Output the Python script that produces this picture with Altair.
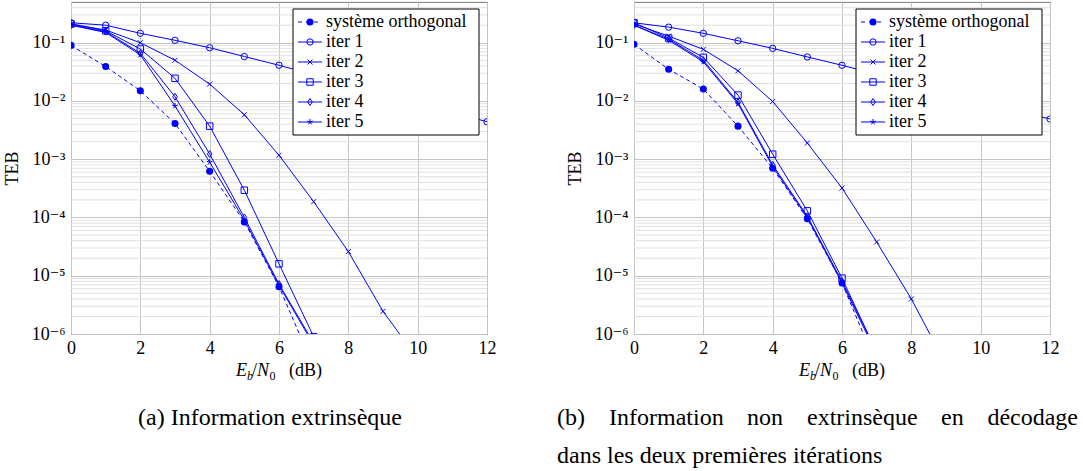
import altair as alt
import pandas as pd

FONT = "'Liberation Serif', 'DejaVu Serif', serif"
BLUE = "#0000ff"

SERIES = ["système orthogonal", "iter 1", "iter 2", "iter 3", "iter 4", "iter 5"]

# Eb/N0 abscissae of each curve
X_ORTHO = [0, 1, 2, 3, 4, 5, 6, 7]
X_ITER1 = [0, 1, 2, 3, 4, 5, 6, 12]
X_ITER3_5 = [0, 1, 2, 3, 4, 5, 6, 7]

# (a) extrinsic information
A_X_ITER2 = [0, 1, 2, 3, 4, 5, 6, 7, 8, 9, 10]
A_ORTHO = [0.09, 0.039, 0.015, 0.0041, 6.2e-4, 8.4e-5, 6.5e-6, 2.7e-7]
A_ITER1 = [0.22, 0.2, 0.145, 0.11, 0.082, 0.058, 0.041, 0.0044]
A_ITER2 = [0.21, 0.165, 0.1, 0.05, 0.0195, 0.0058, 0.00117, 1.87e-4, 2.6e-5, 2.45e-6, 3.8e-7]
A_ITER3 = [0.21, 0.16, 0.078, 0.0245, 0.0037, 2.94e-4, 1.6e-5, 9e-7]
A_ITER4 = [0.2, 0.155, 0.066, 0.0118, 0.00123, 1.0e-4, 7.2e-6, 7e-7]
A_ITER5 = [0.2, 0.15, 0.062, 0.0082, 8.9e-4, 9e-5, 6.8e-6, 6.5e-7]

# (b) non-extrinsic information in the first two iterations
B_X_ITER2 = [0, 1, 2, 3, 4, 5, 6, 7, 8, 9]
B_ORTHO = [0.094, 0.035, 0.016, 0.0037, 7e-4, 9.5e-5, 7.5e-6, 2.9e-7]
B_ITER1 = [0.22, 0.185, 0.145, 0.108, 0.08, 0.057, 0.041, 0.0049]
B_ITER2 = [0.21, 0.13, 0.077, 0.033, 0.0098, 0.0019, 3.2e-4, 3.8e-5, 4e-6, 3e-7]
B_ITER3 = [0.22, 0.12, 0.056, 0.0126, 0.00122, 1.3e-4, 9.1e-6, 4.8e-7]
B_ITER4 = [0.2, 0.115, 0.05, 0.0095, 8e-4, 1.05e-4, 8e-6, 5e-7]
B_ITER5 = [0.2, 0.11, 0.047, 0.009, 7.5e-4, 1.0e-4, 7.5e-6, 4.5e-7]

X_TICKS = [0, 2, 4, 6, 8, 10, 12]
Y_DECADES = [1e-6, 1e-5, 1e-4, 1e-3, 1e-2, 1e-1]
Y_MIN, Y_MAX = 1e-6, 0.5
Y_MINOR = [m * d for d in Y_DECADES for m in range(2, 10) if m * d <= Y_MAX]

W, H = 416, 332

# marker per curve: (shape, size, filled)
MARKERS = {
    "système orthogonal": ("circle", 50, True),
    "iter 1": ("circle", 40, False),
    "iter 2": ("M-1,-1L1,1M-1,1L1,-1", 25, False),
    "iter 3": ("square", 42, False),
    "iter 4": ("M0,-1L0.65,0L0,1L-0.65,0Z", 49, False),
    "iter 5": ("M0,0L0,-1M0,0L0.951,-0.309M0,0L0.588,0.809M0,0L-0.588,0.809M0,0L-0.951,-0.309", 36, False),
}

LABEL_EXPR = (
    "datum.value < 5e-6 ? '10⁻⁶' : datum.value < 5e-5 ? '10⁻⁵' : "
    "datum.value < 5e-4 ? '10⁻⁴' : datum.value < 5e-3 ? '10⁻³' : "
    "datum.value < 5e-2 ? '10⁻²' : '10⁻¹'"
)


def long_table(xs, ys):
    rows = []
    for name, xv, yv in zip(SERIES, xs, ys):
        for a, b in zip(xv, yv):
            rows.append({"series": name, "x": a, "y": b})
    return pd.DataFrame(rows)


def x_enc():
    return alt.X(
        "x:Q",
        scale=alt.Scale(domain=[0, 12], nice=False, zero=False),
        axis=alt.Axis(values=X_TICKS, title=None, grid=True, labelFlush=False,
                      labelOverlap=False, labelPadding=5),
    )


def y_enc():
    return alt.Y(
        "y:Q",
        scale=alt.Scale(type="log", domain=[Y_MIN, Y_MAX], nice=False),
        axis=alt.Axis(values=Y_DECADES, labelExpr=LABEL_EXPR, title="TEB", grid=True,
                      labelFlush=False, labelOverlap=False, labelPadding=6,
                      titlePadding=10),
    )


ONE = pd.DataFrame({"k": [0]})


def text_piece(txt, px, py, size, style="normal", align="left", baseline="alphabetic"):
    return alt.Chart(ONE).mark_text(
        text=txt, font=FONT, fontSize=size, fontStyle=style, align=align,
        baseline=baseline, color="black",
    ).encode(x=alt.value(px), y=alt.value(py))


def panel(df, caption):
    minor = alt.Chart(pd.DataFrame({"y": Y_MINOR})).mark_rule(
        color="#e0e0e0", strokeWidth=1
    ).encode(y=y_enc())

    base = alt.Chart(df)
    layers = [minor]
    ortho = base.transform_filter(alt.datum.series == SERIES[0])
    iters = base.transform_filter(alt.datum.series != SERIES[0])
    layers.append(
        ortho.mark_line(color=BLUE, strokeWidth=1, strokeDash=[4, 3], clip=True)
        .encode(x=x_enc(), y=y_enc())
    )
    layers.append(
        iters.mark_line(color=BLUE, strokeWidth=1, clip=True)
        .encode(x=x_enc(), y=y_enc(), detail="series:N")
    )
    for name in SERIES:
        shape, size, filled = MARKERS[name]
        layers.append(
            base.transform_filter(alt.datum.series == name)
            .mark_point(shape=shape, size=size, filled=filled, color=BLUE,
                        strokeWidth=1, opacity=1, clip=True)
            .encode(x=x_enc(), y=y_enc())
        )

    # legend box
    layers.append(
        alt.Chart(ONE).mark_rect(fill="white", stroke="black", strokeWidth=1).encode(
            x=alt.value(222), x2=alt.value(408), y=alt.value(7), y2=alt.value(133)
        )
    )
    for i, name in enumerate(SERIES):
        yy = 20 + 20 * i
        shape, size, filled = MARKERS[name]
        dash = [4, 4] if i == 0 else [1, 0]
        layers.append(
            alt.Chart(ONE).mark_rule(color=BLUE, strokeWidth=1, strokeDash=dash).encode(
                x=alt.value(227), x2=alt.value(251), y=alt.value(yy), y2=alt.value(yy)
            )
        )
        layers.append(
            alt.Chart(ONE).mark_point(shape=shape, size=size, filled=filled, color=BLUE,
                                      strokeWidth=1, opacity=1)
            .encode(x=alt.value(239), y=alt.value(yy))
        )
        layers.append(text_piece(name, 255, yy, 18, baseline="middle"))

    # axis title E_b/N_0 (dB)
    by = 374
    layers += [
        text_piece("E", 165, by, 18, "italic"),
        text_piece("b", 176, by + 4, 12, "italic"),
        text_piece("/", 181, by, 18),
        text_piece("N", 186, by, 18, "italic"),
        text_piece("0", 198.5, by + 4, 12),
        text_piece("(dB)", 218, by, 18),
    ]

    # sub-figure caption
    for line, px, py, align in caption:
        layers.append(text_piece(line, px, py, 24, align=align))

    return alt.layer(*layers).properties(width=W, height=H)


df_a = long_table(
    [X_ORTHO, X_ITER1, A_X_ITER2, X_ITER3_5, X_ITER3_5, X_ITER3_5],
    [A_ORTHO, A_ITER1, A_ITER2, A_ITER3, A_ITER4, A_ITER5],
)
df_b = long_table(
    [X_ORTHO, X_ITER1, B_X_ITER2, X_ITER3_5, X_ITER3_5, X_ITER3_5],
    [B_ORTHO, B_ITER1, B_ITER2, B_ITER3, B_ITER4, B_ITER5],
)

left = panel(df_a, [("(a) Information extrinsèque", 199, 423, "center")])
# first caption line of (b) is justified across the full caption width
right = panel(df_b, [
    ("(b)", -77, 423, "left"),
    ("Information", -25, 423, "left"),
    ("non", 113, 423, "left"),
    ("extrinsèque", 173, 423, "left"),
    ("en", 307, 423, "left"),
    ("décodage", 444, 423, "right"),
    ("dans les deux premières itérations", -77, 461, "left"),
])

chart = (
    alt.hconcat(left, right, spacing=147, bounds="flush")
    .properties(padding={"left": 2, "top": 1, "right": 0, "bottom": 0}, background="white")
    .configure_view(stroke="#333333", strokeWidth=1)
    .configure_axis(
        labelFont=FONT, labelFontSize=18, labelColor="black",
        titleFont=FONT, titleFontSize=18, titleFontWeight="normal", titleColor="black",
        gridColor="#c4c4c4", gridWidth=1, domain=False, ticks=False,
    )
)

chart.save("out.html", embed_options={"renderer": "svg", "actions": False})
